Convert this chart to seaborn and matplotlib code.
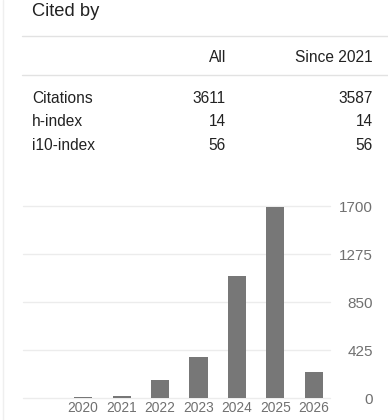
import pandas as pd
import matplotlib
matplotlib.use("Agg")
import matplotlib.pyplot as plt
import seaborn as sns
from matplotlib.lines import Line2D

# citation data read from the widget
years = ["2020", "2021", "2022", "2023", "2024", "2025", "2026"]
citations = [12, 22, 158, 360, 1080, 1692, 232]
y_ticks = [0, 425, 850, 1275, 1700]

row_names = ["Citations", "h-index", "i10-index"]
all_vals = ["3611", "14", "56"]
since_vals = ["3587", "14", "56"]
col_headers = ["All", "Since 2021"]

W, H = 388, 420

sns.set_theme(style="white")
plt.rcParams["font.family"] = ["Liberation Sans", "DejaVu Sans"]

fig = plt.figure(figsize=(W / 100, H / 100), dpi=100)
fig.patch.set_facecolor("white")


def fx(px):
    return px / W


def fy(py):
    return 1 - py / H


# faint left border of the card
fig.add_artist(Line2D([fx(2.5), fx(2.5)], [0, 1], color="#efefef", lw=1))

# header + table
fig.text(fx(32), fy(16.3), "Cited by", fontsize=13.2, color="#222222", va="baseline")
for yy in (35.7, 75):
    fig.add_artist(Line2D([fx(22), 1], [fy(yy), fy(yy)], color="#e2e2e2", lw=1))

fig.text(fx(226), fy(61.7), col_headers[0], fontsize=11.2, color="#222222",
         ha="right", va="baseline")
fig.text(fx(373), fy(61.7), col_headers[1], fontsize=11.2, color="#222222",
         ha="right", va="baseline")

for i, name in enumerate(row_names):
    base = 102.7 + i * 23.7
    fig.text(fx(32), fy(base), name, fontsize=11.2, color="#222222", va="baseline")
    fig.text(fx(226), fy(base), all_vals[i], fontsize=11.2, color="#222222",
             ha="right", va="baseline")
    fig.text(fx(373), fy(base), since_vals[i], fontsize=11.2, color="#222222",
             ha="right", va="baseline")

# bar chart
ax = fig.add_axes([fx(22.7), fy(398), (330 - 22.7) / W, (398 - 206) / H])
df = pd.DataFrame({"year": years, "cites": citations})
sns.barplot(data=df, x="year", y="cites", color="#777777", saturation=1,
            width=0.47, edgecolor="none", ax=ax)

ax.set_xlim(-1.57, 6.42)
ax.set_ylim(0, 1700)
ax.set_yticks(y_ticks)
ax.set_yticklabels([str(t) for t in y_ticks])
for t in y_ticks:
    ax.axhline(t, color="#ececec", lw=1, zorder=0, clip_on=False)
for s in ax.spines.values():
    s.set_visible(False)
ax.set_xlabel("")
ax.set_ylabel("")
ax.yaxis.tick_right()
ax.tick_params(axis="y", length=0, pad=31, labelsize=11, labelcolor="#707070")
for lab in ax.get_yticklabels():
    lab.set_horizontalalignment("right")
ax.tick_params(axis="x", length=0, pad=2.5, labelsize=9.9, labelcolor="#707070")
ax.set_facecolor("none")

fig.savefig("out.png", dpi=100, facecolor="white")
